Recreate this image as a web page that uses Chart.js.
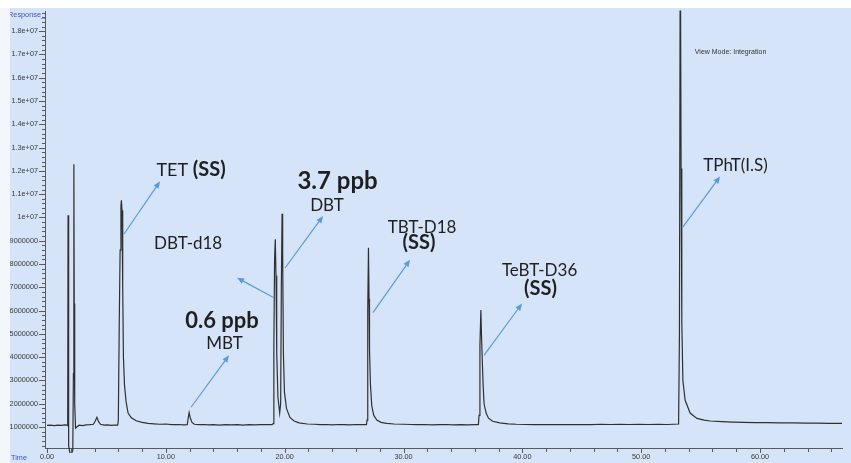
<!DOCTYPE html>
<html><head><meta charset="utf-8">
<script src="https://cdn.jsdelivr.net/npm/chart.js@4/dist/chart.umd.min.js"></script>
<style>html,body{margin:0;padding:0;background:#d6e4f9;}canvas{display:block;}</style>
</head><body>
<canvas id="c" width="851" height="463" style="width:851px;height:463px"></canvas>
<script>
// ---- data (time in min, response) ----
const retentionTimes = [
  0.00,0.30,0.60,0.90,1.20,1.50,1.70,
  1.74,1.77,1.80,1.84,1.92,2.05,2.17,2.22,2.26,2.29,2.33,2.40,2.50,
  2.70,3.00,3.30,3.60,3.90,4.05,4.20,4.35,4.50,4.80,5.10,5.40,5.70,5.95,
  6.00,6.08,6.15,6.22,6.26,6.31,6.37,6.43,6.52,6.65,6.82,7.10,7.50,8.00,8.50,9.00,9.50,10.00,10.50,11.00,11.50,
  11.80,11.90,11.96,12.05,12.20,12.40,12.80,13.20,13.60,14.00,14.50,15.00,15.50,16.00,16.50,17.00,17.50,18.00,18.50,18.95,
  19.03,19.09,19.15,19.21,19.27,19.33,19.43,19.58,19.66,19.72,19.78,19.83,19.89,19.98,20.15,20.45,20.80,21.20,21.90,
  22.50,23.00,23.50,24.00,24.50,25.00,25.50,26.00,26.50,26.88,
  26.93,26.99,27.05,27.10,27.14,27.22,27.33,27.50,27.75,28.10,28.60,29.20,30.00,30.60,31.20,31.80,32.40,33.00,33.60,34.20,34.80,35.40,36.00,36.30,
  36.36,36.43,36.51,36.57,36.62,36.70,36.78,36.95,37.15,37.50,38.10,38.80,39.50,40.20,41.00,41.80,42.60,43.40,44.20,45.00,45.80,46.60,47.40,48.20,49.00,49.80,50.60,51.40,52.20,53.15,
  53.22,53.29,53.36,53.42,53.51,53.70,54.12,54.69,55.30,55.81,56.80,57.70,58.60,59.60,60.60,61.60,62.80,63.80,64.80,65.80,66.90
];
const responses = [
  1.07e6,1.08e6,1.06e6,1.08e6,1.07e6,1.09e6,1.08e6,
  1.06e6,1.01e7,5.1e6,2.0e5,-1.0e5,-1.5e5,0,3.3e6,1.228e7,6.3e6,2.0e6,9.5e5,1.0e6,
  1.08e6,1.06e6,1.09e6,1.10e6,1.12e6,1.25e6,1.42e6,1.22e6,1.12e6,1.08e6,1.09e6,1.07e6,1.08e6,1.08e6,
  1.3e6,5.5e6,8.6e6,1.05e7,1.074e7,1.03e7,7.0e6,4.0e6,2.8e6,2.1e6,1.6e6,1.4e6,1.27e6,1.2e6,1.16e6,1.14e6,1.12e6,1.13e6,1.10e6,1.11e6,1.09e6,
  1.10e6,1.45e6,1.62e6,1.4e6,1.2e6,1.12e6,1.10e6,1.11e6,1.09e6,1.10e6,1.08e6,1.10e6,1.09e6,1.10e6,1.08e6,1.10e6,1.09e6,1.10e6,1.11e6,1.10e6,
  1.15e6,4.5e6,8.2e6,9.06e6,7.5e6,4.2e6,2.3e6,1.6e6,2.0e6,7.0e6,1.016e7,8.6e6,4.2e6,2.5e6,1.8e6,1.4e6,1.26e6,1.18e6,1.13e6,
  1.12e6,1.10e6,1.11e6,1.09e6,1.11e6,1.10e6,1.09e6,1.11e6,1.10e6,1.10e6,
  1.3e6,6.0e6,8.7e6,6.5e6,4.3e6,2.8e6,1.9e6,1.5e6,1.3e6,1.2e6,1.16e6,1.13e6,1.12e6,1.11e6,1.10e6,1.11e6,1.09e6,1.10e6,1.11e6,1.09e6,1.10e6,1.09e6,1.10e6,1.10e6,
  1.5e6,4.5e6,6.03e6,4.8e6,4.0e6,2.8e6,2.0e6,1.6e6,1.38e6,1.25e6,1.18e6,1.14e6,1.12e6,1.11e6,1.10e6,1.11e6,1.10e6,1.11e6,1.10e6,1.11e6,1.10e6,1.12e6,1.11e6,1.12e6,1.11e6,1.12e6,1.11e6,1.12e6,1.11e6,1.13e6,
  5.0e6,2.3e7,1.21e7,5.5e6,3.0e6,2.15e6,1.6e6,1.37e6,1.3e6,1.26e6,1.23e6,1.21e6,1.20e6,1.19e6,1.19e6,1.18e6,1.18e6,1.17e6,1.17e6,1.16e6,1.16e6
];
const xTickValues = [0,10,20,30,40,50,60];
const yTickValues = [1e6,2e6,3e6,4e6,5e6,6e6,7e6,8e6,9e6,1e7,1.1e7,1.2e7,1.3e7,1.4e7,1.5e7,1.6e7,1.7e7,1.8e7];

// annotation labels (data coordinates: time, response)
const labelTexts = [
  {runs:[['TET ','normal',18],['(SS)','bold',20]], t:12.12, v:11.76e6},
  {runs:[['3.7 ppb','bold',24]], t:24.45, v:11.21e6},
  {runs:[['DBT','normal',17]], t:23.56, v:10.27e6},
  {runs:[['DBT-d18','normal',17]], t:11.87, v:8.65e6},
  {runs:[['0.6 ppb','bold',22]], t:14.73, v:5.27e6},
  {runs:[['MBT','normal',17]], t:14.94, v:4.37e6},
  {runs:[['TBT-D18','normal',17]], t:31.56, v:9.33e6},
  {runs:[['(SS)','bold',20]], t:31.31, v:8.65e6},
  {runs:[['TeBT-D36','normal',17]], t:41.45, v:7.49e6},
  {runs:[['(SS)','bold',20]], t:41.53, v:6.68e6},
  {runs:[['TPhT(I.S)','normal',17]], t:57.94, v:11.98e6}
];
const arrows = [
  [6.48,9.29e6, 9.51,11.55e6],
  [20.03,7.83e6, 23.23,10.06e6],
  [19.10,6.55e6, 15.99,7.41e6],
  [12.12,1.85e6, 15.32,4.08e6],
  [27.43,5.91e6, 30.55,8.18e6],
  [36.77,4.08e6, 39.97,6.30e6],
  [53.44,9.54e6, 56.64,11.76e6]
];

const points = retentionTimes.map((t,i)=>({x:t,y:responses[i]}));
const BG = '#d6e4f9';
const AXIS = '#5a5a5a';
const TEXT_FONT = 'Lato, "Open Sans", sans-serif';
const AXIS_FONT = '"Liberation Sans", Arial, sans-serif';

const overlay = {
  id:'overlay',
  beforeDraw(chart){
    const c = chart.ctx; c.save();
    c.fillStyle = BG; c.fillRect(0,0,chart.width,chart.height);
    c.restore();
  },
  afterDraw(chart){
    const c = chart.ctx, a = chart.chartArea, xs = chart.scales.x, ys = chart.scales.y;
    c.save();
    c.strokeStyle = AXIS; c.lineWidth = 1;
    // y tick marks (major + minor)
    for (let k = 1; k <= 94; k++) {
      const v = k*2e5; if (v > ys.max) break;
      const py = Math.round(ys.getPixelForValue(v)) + 0.5;
      const len = (k % 5 === 0) ? 6 : 3;
      c.beginPath(); c.moveTo(a.left - len, py); c.lineTo(a.left, py); c.stroke();
    }
    // x tick marks
    for (let k = 0; k <= 66; k += 2) {
      const px = Math.round(xs.getPixelForValue(k)) + 0.5;
      const len = (k % 10 === 0) ? 5 : 4;
      c.beginPath(); c.moveTo(px, a.bottom); c.lineTo(px, a.bottom + len); c.stroke();
    }
    // axis titles
    c.fillStyle = '#3f52c4';
    c.font = '7.3px ' + AXIS_FONT;
    c.textAlign = 'right'; c.textBaseline = 'alphabetic';
    c.fillText('Response_', a.left, a.top + 6);
    c.textAlign = 'left';
    c.fillText('Time', 11, a.bottom + 12);
    // frame strips (white border of the exported window)
    c.fillStyle = '#ffffff';
    c.fillRect(0,0,chart.width,8);
    c.fillStyle = '#f3f6fb';
    c.fillRect(0,8,10,chart.height-8);
    // view mode text
    c.fillStyle = '#333';
    c.font = '7px ' + AXIS_FONT;
    c.textAlign = 'center';
    c.fillText('View Mode: Integration', xs.getPixelForValue(57.52), ys.getPixelForValue(17.02e6));
    // arrows
    c.strokeStyle = '#5b9bd5'; c.fillStyle = '#5b9bd5'; c.lineWidth = 1.2;
    for (const [t1,v1,t2,v2] of arrows) {
      const x1 = xs.getPixelForValue(t1), y1 = ys.getPixelForValue(v1);
      const x2 = xs.getPixelForValue(t2), y2 = ys.getPixelForValue(v2);
      const ang = Math.atan2(y2-y1, x2-x1), L = 7, W = 3;
      const bx = x2 - L*Math.cos(ang), by = y2 - L*Math.sin(ang);
      c.beginPath(); c.moveTo(x1,y1); c.lineTo(bx,by); c.stroke();
      c.beginPath(); c.moveTo(x2,y2);
      c.lineTo(bx + W*Math.sin(ang), by - W*Math.cos(ang));
      c.lineTo(bx - W*Math.sin(ang), by + W*Math.cos(ang));
      c.closePath(); c.fill();
    }
    // labels
    c.fillStyle = '#1f1f1f'; c.textAlign = 'left'; c.textBaseline = 'alphabetic';
    for (const lab of labelTexts) {
      let total = 0;
      const widths = lab.runs.map(([s,w,sz]) => { c.font = w+' '+sz+'px '+TEXT_FONT; const m = c.measureText(s).width; total += m; return m; });
      let x = xs.getPixelForValue(lab.t) - total/2;
      const y = ys.getPixelForValue(lab.v);
      lab.runs.forEach(([s,w,sz],i) => { c.font = w+' '+sz+'px '+TEXT_FONT; c.fillText(s, x, y); x += widths[i]; });
    }
    c.restore();
  }
};

new Chart(document.getElementById('c'), {
  type:'line',
  data:{ datasets:[{ data:points, borderColor:'#303030', borderWidth:1.2, pointRadius:0, tension:0, fill:false,
    clip:{left:0, top:1, right:0, bottom:5} }] },
  options:{
    responsive:false, animation:false, maintainAspectRatio:false,
    parsing:false, normalized:true,
    layout:{ padding:{ top:9, right:9, left:0, bottom:0 } },
    plugins:{ legend:{display:false}, tooltip:{enabled:false} },
    scales:{
      x:{ type:'linear', min:-0.17, max:66.9,
        afterFit:(s)=>{ s.height = 15; },
        afterBuildTicks:(s)=>{ s.ticks = xTickValues.map(v=>({value:v})); },
        grid:{ display:false, drawTicks:false },
        border:{ display:true, color:AXIS, width:1 },
        ticks:{ autoSkip:false, maxRotation:0, padding:5, color:'#3a3a3a',
          font:{ family:AXIS_FONT, size:7.3 },
          callback:(v)=>Number(v).toFixed(2) } },
      y:{ type:'linear', min:1e5, max:1.885e7,
        afterFit:(s)=>{ s.width = 45; },
        afterBuildTicks:(s)=>{ s.ticks = yTickValues.map(v=>({value:v})); },
        grid:{ display:false, drawTicks:false },
        border:{ display:true, color:AXIS, width:1 },
        ticks:{ autoSkip:false, padding:7, color:'#3a3a3a',
          font:{ family:AXIS_FONT, size:7.3 },
          callback:(v)=> v >= 1e7 ? (Math.round(v/1e6)/10) + 'e+07' : String(Math.round(v)) } }
    }
  },
  plugins:[overlay]
});
</script>
</body></html>
